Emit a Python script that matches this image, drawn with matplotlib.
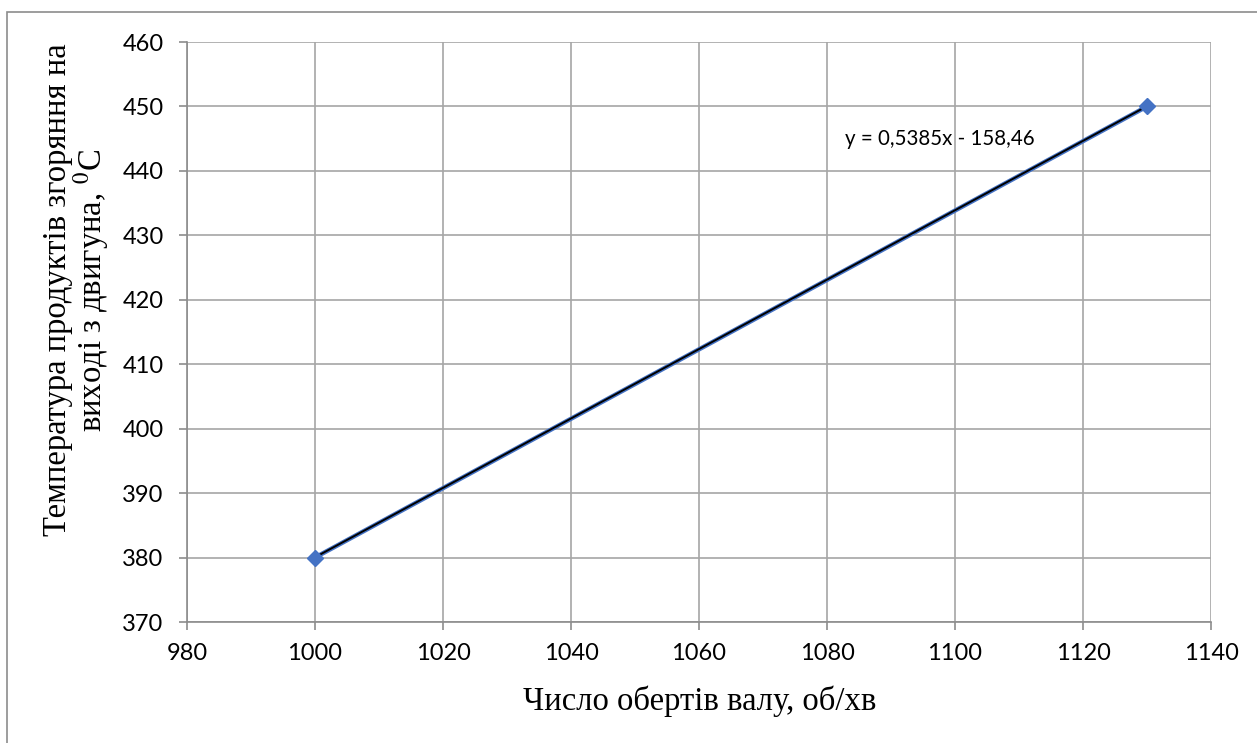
import matplotlib
matplotlib.use('Agg')
import matplotlib.pyplot as plt
import numpy as np
from matplotlib.patches import Rectangle

plt.rcParams['mathtext.fontset'] = 'stix'

# data
rpm = [1000, 1130]
temp = [380, 450]
slope = 0.5385
intercept = -158.46
xticks = [980, 1000, 1020, 1040, 1060, 1080, 1100, 1120, 1140]
yticks = [370, 380, 390, 400, 410, 420, 430, 440, 450, 460]
eq_label = 'y = 0,5385x - 158,46'
xlabel = 'Число обертів валу, об/хв'
ylabel = 'Температура продуктів згоряння на\nвиході з двигуна, $^{0}$C'

W, H = 1257, 743
fig = plt.figure(figsize=(W / 100, H / 100), dpi=100)
ax = fig.add_axes([187 / W, 1 - 622 / H, 1024 / W, 580 / H])

# chart border (Excel frame)
fig.patches.append(Rectangle((7 / W, -0.05), 1.2, 1 - 12 / H + 0.05,
                             transform=fig.transFigure, fill=False,
                             ec='#8c8c8c', lw=1.2))

trend = [slope * x + intercept for x in rpm]
ax.plot(rpm, temp, color='#4472C4', lw=3.2, zorder=3)
ax.plot(rpm, trend, color='black', lw=1.4, zorder=4)
ax.plot(rpm, temp, ls='none', marker='D', ms=8.5, color='#4472C4', zorder=5,
        clip_on=False)

ax.text(1082.8, 444.9, eq_label, fontsize=14.8, family='Lato', va='center',
        ha='left')

ax.set_xlim(980, 1140)
ax.set_ylim(370, 460)
ax.set_xticks(xticks)
ax.set_yticks(yticks)
ax.tick_params(axis='both', color='#8c8c8c', length=5.8, width=1.2,
               labelsize=17, labelfontfamily='Lato')
ax.tick_params(axis='y', pad=11)
ax.tick_params(axis='x', pad=9)
ax.grid(True, color='#a6a6a6', lw=1.2)
ax.set_axisbelow(True)
for s in ['top', 'right']:
    ax.spines[s].set_visible(False)
for s in ['left', 'bottom']:
    ax.spines[s].set_color('#8c8c8c')
    ax.spines[s].set_linewidth(1.2)

fig.text(699.5 / W, 1 - 710 / H, xlabel, family='Liberation Serif',
         fontsize=23.5, ha='center', va='baseline')
fig.text(77 / W, 1 - 290 / H, ylabel, family='Liberation Serif',
         fontsize=23.5, ha='center', va='center', rotation=90,
         linespacing=0.95, multialignment='center')

fig.savefig('out.png', dpi=100)
